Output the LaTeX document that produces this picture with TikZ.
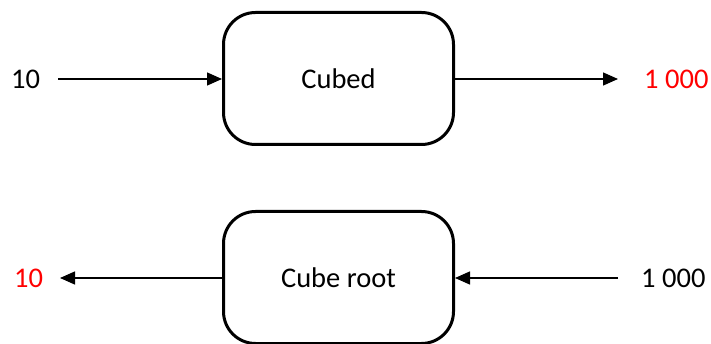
\documentclass[tikz,border=0pt]{standalone}
\usepackage{fontspec}
\setmainfont{Carlito}
\usetikzlibrary{arrows.meta}
\begin{document}
\begin{tikzpicture}[x=1pt,y=-1pt,
  proc/.style={draw, line width=3pt, rounded corners=32pt, minimum width=230pt, minimum height=132pt, inner sep=0pt},
  lbl/.style={inner sep=0pt},
  flow/.style={line width=1.4pt, -{Triangle[length=15pt,width=13pt]}},
  every node/.append style={font=\fontsize{28.5}{33}\selectfont}]
\useasboundingbox (0,0) rectangle (711,344);
\node[proc] (cubed) at (338.5,78.5) {Cubed};
\node[proc] (root) at (338.5,277.5) {Cube root};
\node[lbl, anchor=west] (in1) at (11,79) {10};
\node[lbl, anchor=west, text=red] (out1) at (644,79) {1 000};
\node[lbl, anchor=west, text=red] (out2) at (14,278) {10};
\node[lbl, anchor=west] (in2) at (641,278) {1 000};
\coordinate (a1) at (58,79);
\coordinate (a2) at (618,79);
\coordinate (b1) at (60,278);
\coordinate (b2) at (618,278);
\draw[flow] (a1) -- (cubed.west |- a1);
\draw[flow] (cubed.east |- a2) -- (a2);
\draw[flow] (root.west |- b1) -- (b1);
\draw[flow] (b2) -- (root.east |- b2);
\end{tikzpicture}
\end{document}
